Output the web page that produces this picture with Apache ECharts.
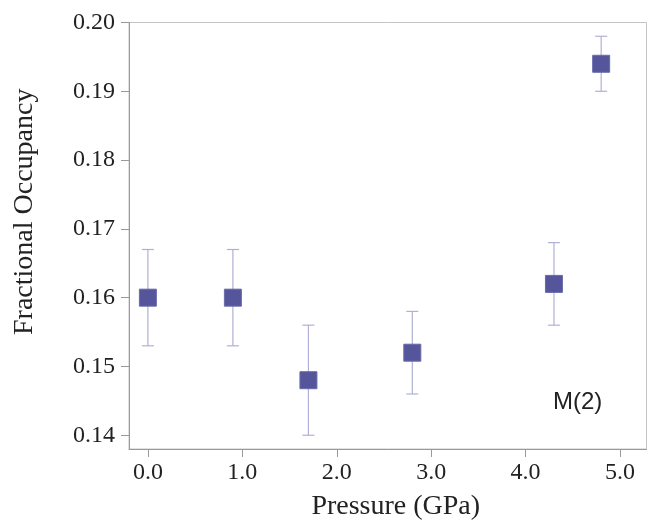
<!DOCTYPE html>
<html>
<head>
<meta charset="utf-8">
<script src="https://cdn.jsdelivr.net/npm/echarts@6/dist/echarts.min.js"></script>
<style>
html,body{margin:0;padding:0;background:#fff;}
#chart{width:648px;height:526px;}
</style>
</head>
<body>
<div id="chart"></div>
<script>
const pressure = [0.0, 0.9, 1.7, 2.8, 4.3, 4.8];
const occupancy = [0.160, 0.160, 0.148, 0.152, 0.162, 0.194];
const errLow = [0.153, 0.153, 0.140, 0.146, 0.156, 0.190];
const errHigh = [0.167, 0.167, 0.156, 0.158, 0.168, 0.198];
const xTicks = [0, 1, 2, 3, 4, 5];
const yTicks = [0.14, 0.15, 0.16, 0.17, 0.18, 0.19, 0.20];

const points = pressure.map((p, i) => [p, occupancy[i]]);
const bars = pressure.map((p, i) => [p, errLow[i], errHigh[i]]);

const chart = echarts.init(document.getElementById('chart'), null, {renderer: 'canvas'});
const serif = 'Liberation Serif, Times New Roman, serif';
chart.setOption({
  animation: false,
  backgroundColor: '#fff',
  grid: {left: 129, right: 1.5, top: 22.5, bottom: 72.5, show: true, borderColor: '#c4c4c4', borderWidth: 1},
  xAxis: {
    type: 'value', min: -0.2, max: 5.28,
    name: 'Pressure (GPa)', nameLocation: 'middle', nameGap: 44,
    nameTextStyle: {fontFamily: serif, fontSize: 28, color: '#222', padding: [0, 0, 0, 16]},
    axisLine: {show: true, onZero: false, lineStyle: {color: '#999', width: 1}},
    axisTick: {show: true, length: 8, lineStyle: {color: '#999'}, customValues: xTicks},
    axisLabel: {fontFamily: serif, fontSize: 24, color: '#222', margin: 12, customValues: xTicks,
      formatter: v => v.toFixed(1)},
    splitLine: {show: false}
  },
  yAxis: {
    type: 'value', min: 0.138, max: 0.2,
    name: 'Fractional Occupancy', nameLocation: 'middle', nameGap: 90,
    nameTextStyle: {fontFamily: serif, fontSize: 28, color: '#222', padding: [0, 0, 0, 48]},
    axisLine: {show: true, onZero: false, lineStyle: {color: '#999', width: 1}},
    axisTick: {show: true, length: 8, lineStyle: {color: '#999'}, customValues: yTicks},
    axisLabel: {fontFamily: serif, fontSize: 24, color: '#222', margin: 14, customValues: yTicks,
      formatter: v => v.toFixed(2)},
    splitLine: {show: false}
  },
  series: [
    {
      type: 'custom',
      data: bars,
      z: 1,
      renderItem: function (params, api) {
        const x = api.value(0);
        const lo = api.coord([x, api.value(1)]);
        const hi = api.coord([x, api.value(2)]);
        const hw = 6;
        const style = {stroke: '#b0b0d6', lineWidth: 1.2, fill: null};
        return {
          type: 'group',
          children: [
            {type: 'line', shape: {x1: lo[0], y1: lo[1], x2: hi[0], y2: hi[1]}, style: style},
            {type: 'line', shape: {x1: lo[0] - hw, y1: lo[1], x2: lo[0] + hw, y2: lo[1]}, style: style},
            {type: 'line', shape: {x1: hi[0] - hw, y1: hi[1], x2: hi[0] + hw, y2: hi[1]}, style: style}
          ]
        };
      }
    },
    {
      type: 'scatter',
      data: points,
      z: 3,
      symbol: 'rect',
      symbolSize: 17,
      itemStyle: {color: '#55559b', borderColor: '#6a6aac', borderWidth: 1, opacity: 1}
    }
  ],
  graphic: [
    {type: 'text', left: 553, top: 390,
      style: {text: 'M(2)', fontFamily: 'Liberation Sans, Arial, sans-serif', fontSize: 24, fill: '#222'}}
  ]
});
</script>
</body>
</html>
